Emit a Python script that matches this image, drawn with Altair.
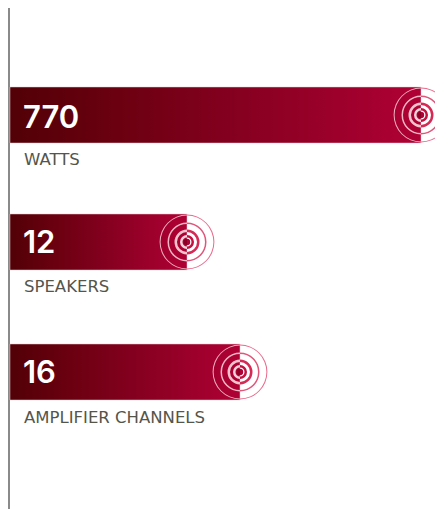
import altair as alt
import pandas as pd

names = ["WATTS", "SPEAKERS", "AMPLIFIER CHANNELS"]
numbers = ["770", "12", "16"]
bar_end = [421, 187, 240]
bar_top = [87, 214, 344]
bar_bottom = [143, 270, 400]
number_y = [119, 244, 374]
name_y = [160, 287, 418]
ring_y = [115, 242, 372]
ring_inner = [0, 4.5, 10, 18, 26.4]
ring_outer = [3.2, 7, 12.5, 19.5, 27.4]
ring_left = ["#8c0026", "#f6d3da", "#f3c3cd", "#f0b8c4", "#eeb0be"]
ring_right = ["#b00035", "#c2103f", "#d42a55", "#e0557a", "#e86a8c"]

LEFT, RIGHT = 8, 435
TOP, BOTTOM = 8, 509
x_scale = alt.Scale(domain=[LEFT, RIGHT], range=[0, RIGHT - LEFT], nice=False, zero=False)
y_scale = alt.Scale(domain=[TOP, BOTTOM], range=[0, BOTTOM - TOP], nice=False, zero=False)
X = lambda f: alt.X(f, type="quantitative", scale=x_scale, axis=None)
Y = lambda f: alt.Y(f, type="quantitative", scale=y_scale, axis=None)

bars = pd.DataFrame({"start": [10] * 3, "end": bar_end, "top": bar_top, "bottom": bar_bottom,
                     "number": numbers, "name": names, "ny": number_y, "ly": name_y})

gradient = alt.Gradient(
    gradient="linear", x1=0, x2=1, y1=0, y2=0,
    stops=[alt.GradientStop(offset=0, color="#520006"),
           alt.GradientStop(offset=0.25, color="#6a0010"),
           alt.GradientStop(offset=0.6, color="#8a0022"),
           alt.GradientStop(offset=1, color="#b00035")],
)

layers = [
    alt.Chart(pd.DataFrame({"x": [9]})).mark_rule(color="#8a8a8a", strokeWidth=2).encode(
        x=X("x"), y=alt.value(0), y2=alt.value(BOTTOM - TOP)),
]
for i in range(len(names)):
    layers.append(
        alt.Chart(bars.iloc[[i]]).mark_rect(color=gradient, stroke="#e8c8cc", strokeWidth=0.5).encode(
            x=X("start"), x2="end", y=Y("top"), y2="bottom"))

rows = []
for i in range(len(names)):
    for j in range(len(ring_inner)):
        rows.append(dict(cx=bar_end[i], cy=ring_y[i], r1=ring_inner[j], r2=ring_outer[j],
                         t1=3.14159265, t2=6.2831853, c=ring_left[j]))
        rows.append(dict(cx=bar_end[i], cy=ring_y[i], r1=ring_inner[j], r2=ring_outer[j],
                         t1=0, t2=3.14159265, c=ring_right[j]))
rings = pd.DataFrame(rows)
layers.append(
    alt.Chart(rings).mark_arc().encode(
        x=X("cx"), y=Y("cy"),
        theta=alt.Theta("t1:Q", scale=None, stack=None), theta2="t2",
        radius=alt.Radius("r1:Q", scale=None), radius2="r2",
        color=alt.Color("c:N", scale=None)))

layers.append(
    alt.Chart(bars).mark_text(align="left", baseline="middle", font="Inter", fontSize=31,
                              fontWeight=600, color="white").encode(
        x=alt.X("tx:Q", scale=x_scale, axis=None), y=Y("ny"), text="number").transform_calculate(tx="23"))
layers.append(
    alt.Chart(bars).mark_text(align="left", baseline="middle", font="DejaVu Sans", fontSize=16.5,
                              fontWeight=400, color="#55554a").encode(
        x=alt.X("tx:Q", scale=x_scale, axis=None), y=Y("ly"), text="name").transform_calculate(tx="24"))

chart = alt.layer(*layers).properties(
    width=RIGHT - LEFT, height=BOTTOM - TOP, padding=0, autosize=alt.AutoSizeParams(type="none"),
    background="white",
).configure_view(stroke=None)

chart.save("out.html", embed_options={"renderer": "svg", "actions": False})
